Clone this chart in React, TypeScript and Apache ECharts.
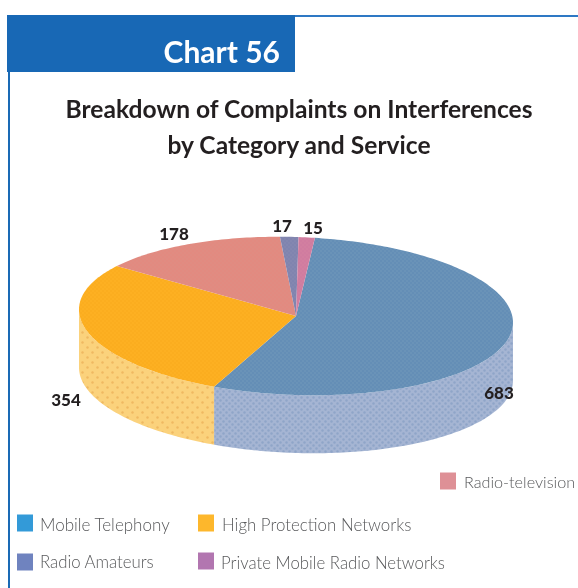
import React, { useEffect, useRef } from "react";
import * as echarts from "echarts";

const categories = ["Mobile Telephony", "High Protection Networks", "Radio-television", "Radio Amateurs", "Private Mobile Radio Networks"];
const values = [683, 354, 178, 17, 15];
const labelTexts = ["683", "354", "178", "17", "15"];

const topBase = ["#6a93b8", "#fdb022", "#e28a80", "#8487b0", "#d27fa0"];
const topDot = ["#5f8ab5", "#f7a81c", "#de8f84", "#7c83ad", "#cc7aa0"];
const wallBase = ["#a5b5d3", "#fbd27c"];
const wallDot = ["#8fa5c8", "#efb862"];
const wallCell = [6, 10];
const legendColors = ["#339ad8", "#fdb72c", "#de9096", "#6f83bf", "#b276b0"];

const CX = 296, CY = 316, RX = 217, RY = 79, DEPTH = 58, SHEAR = 0.03;
const START_DEG = 5;

const makePattern = (base: string, dot: string, size: number, r: number) => {
  const c = document.createElement("canvas");
  c.width = size; c.height = size;
  const g = c.getContext("2d")!;
  g.fillStyle = base; g.fillRect(0, 0, size, size);
  g.fillStyle = dot;
  for (const [x, y] of [[size / 4, size / 4], [(3 * size) / 4, (3 * size) / 4]]) {
    g.beginPath(); g.arc(x, y, r, 0, Math.PI * 2); g.fill();
  }
  return { image: c, repeat: "repeat" } as any;
};

const pt = (deg: number, dy = 0) => {
  const a = (deg * Math.PI) / 180;
  const dx = RX * Math.sin(a);
  return [CX + dx, CY - RY * Math.cos(a) + dx * SHEAR + dy];
};
const arcPts = (a: number, b: number, dy = 0) => {
  const n = Math.max(2, Math.ceil(Math.abs(b - a)));
  const out: number[][] = [];
  for (let i = 0; i <= n; i++) out.push(pt(a + ((b - a) * i) / n, dy));
  return out;
};

export default function App() {
  const ref = useRef<HTMLDivElement>(null);
  useEffect(() => {
    const chart = echarts.init(ref.current!, null, { renderer: "svg" });
    const total = values.reduce((s, v) => s + v, 0);
    const spans: [number, number][] = [];
    let acc = START_DEG;
    values.forEach((v) => {
      const next = acc + (v / total) * 360;
      spans.push([acc, next]);
      acc = next;
    });
    const font = "Lato";
    const legendPos = [[17, 523, 40, 17, 524], [198, 523, 222, 16.9, 524], [440, 481, 464, 16.2, 481], [17, 562, 40, 16.8, 561], [198, 561, 221, 16.8, 562]];
    const labelPos = [[499, 392], [66, 399], [174, 233], [282, 225], [313, 227]];
    chart.setOption({
      animation: false,
      series: [{
        type: "custom",
        coordinateSystem: "none",
        silent: true,
        data: values,
        renderItem: (params: any) => {
          const i = params.dataIndex;
          const [a, b] = spans[i];
          const children: any[] = [];
          const wa = Math.max(a, 90), wb = Math.min(b, 270);
          if (wb > wa) {
            children.push({
              type: "polygon",
              shape: { points: [...arcPts(wa, wb), ...arcPts(wb, wa, DEPTH)] },
              style: { fill: makePattern(wallBase[i], wallDot[i], wallCell[i], 1.2), stroke: "none" },
            });
          }
          children.push({
            type: "polygon",
            shape: { points: [[CX, CY], ...arcPts(a, b)] },
            style: { fill: makePattern(topBase[i], topDot[i], 4, 0.8), stroke: "none" },
          });
          return { type: "group", children };
        },
      }],
      graphic: [
        { type: "rect", shape: { x: 8, y: 72, width: 2, height: 516 }, style: { fill: "#1a6ab5" } },
        { type: "rect", shape: { x: 266, y: 15, width: 312, height: 2 }, style: { fill: "#2e78c4" } },
        { type: "rect", shape: { x: 7, y: 15, width: 288, height: 57 }, style: { fill: "#1868b5" } },
        { type: "text", z: 10, style: { x: 280, y: 51, text: "Chart 56", fill: "#fff", font: `bold 30px ${font}`, textAlign: "right", textVerticalAlign: "middle" } },
        { type: "text", z: 10, style: { x: 299, y: 108, text: "Breakdown of Complaints on Interferences", fill: "#231f20", font: `bold 24.6px ${font}`, textAlign: "center", textVerticalAlign: "middle" } },
        { type: "text", z: 10, style: { x: 299, y: 144, text: "by Category and Service", fill: "#231f20", font: `bold 24.6px ${font}`, textAlign: "center", textVerticalAlign: "middle" } },
        ...labelTexts.map((t, i) => ({
          type: "text",
          z: 10,
          style: { x: labelPos[i][0], y: labelPos[i][1], text: t, fill: "#231f20", font: `900 17px ${font}`, textAlign: "center", textVerticalAlign: "middle" },
        })),
        ...categories.flatMap((c, i) => [
          { type: "rect", shape: { x: legendPos[i][0], y: legendPos[i][1] - 8.5, width: 16, height: 17 }, style: { fill: legendColors[i] } },
          { type: "text", z: 10, style: { x: legendPos[i][2], y: legendPos[i][4], text: c, fill: "#58595b", font: `300 ${legendPos[i][3]}px ${font}`, textVerticalAlign: "middle" } },
        ]),
      ],
    });
    return () => chart.dispose();
  }, []);
  return <div ref={ref} style={{ position: "fixed", left: 0, top: 0, width: 578, height: 588 }} />;
}
